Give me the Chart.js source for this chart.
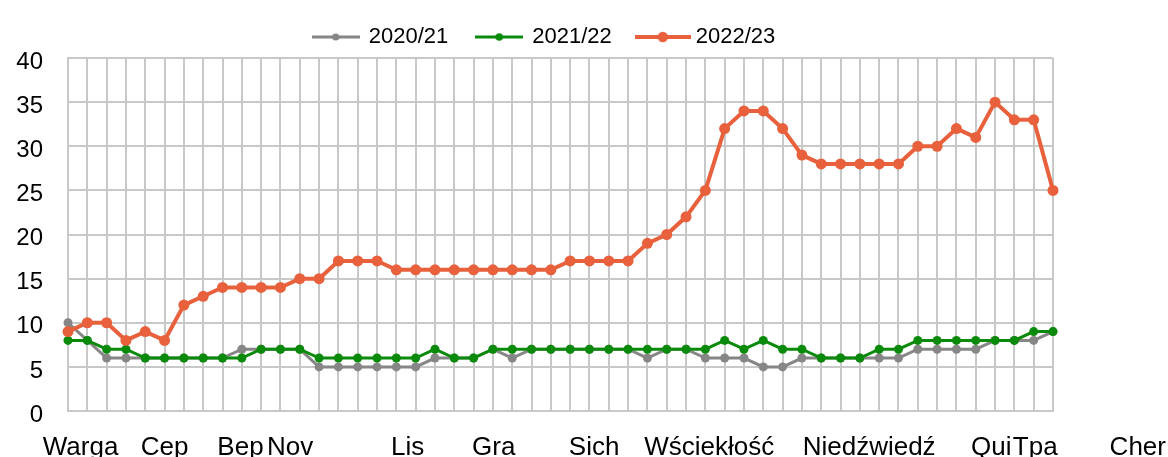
<!DOCTYPE html>
<html><head><meta charset="utf-8">
<script src="https://cdn.jsdelivr.net/npm/chart.js@4"></script>
<style>html,body{margin:0;padding:0;background:#fff;} canvas{display:block;}</style>
</head><body>
<canvas id="c" width="1168" height="457"></canvas>
<script>
const weeks = [1,2,3,4,5,6,7,8,9,10,11,12,13,14,15,16,17,18,19,20,21,22,23,24,25,26,
  27,28,29,30,31,32,33,34,35,36,37,38,39,40,41,42,43,44,45,46,47,48,49,50,51,52];
const series2020 = [10,8,6,6,6,6,6,6,6,7,7,7,7,5,5,5,5,5,5,6,6,6,7,6,7,7,
  7,7,7,7,6,7,7,6,6,6,5,5,6,6,6,6,6,6,7,7,7,7,8,8,8,9];
const series2021 = [8,8,7,7,6,6,6,6,6,6,7,7,7,6,6,6,6,6,6,7,6,6,7,7,7,7,
  7,7,7,7,7,7,7,7,8,7,8,7,7,6,6,6,7,7,8,8,8,8,8,8,9,9];
const series2022 = [9,10,10,8,9,8,12,13,14,14,14,14,15,15,17,17,17,16,16,16,16,16,16,16,16,16,
  17,17,17,17,19,20,22,25,32,34,34,32,29,28,28,28,28,28,30,30,32,31,35,33,33,25];
const seriesNames = ['2020/21','2021/22','2022/23'];
const monthLabels = ['Warga','Cep','Bep','Nov','Lis','Gra','Sich','Wściekłość','Niedźwiedź','Qui','Tpa','Cher'];
const monthPositions = [0.65,5.0,8.93,11.5,17.58,22.04,27.24,33.2,41.48,47.8,50.08,55.39];

const colors = ['#868686','#0a8a0a','#e8603c'];
const FONT = "'Liberation Sans', Arial, sans-serif";
Chart.defaults.font.family = FONT;
Chart.defaults.color = '#000';

function legendIcon(color, w, lw, r) {
  const c = document.createElement('canvas');
  c.width = w; c.height = 14;
  const g = c.getContext('2d');
  g.strokeStyle = color; g.lineWidth = lw;
  g.beginPath(); g.moveTo(0, 7); g.lineTo(w, 7); g.stroke();
  g.fillStyle = color;
  g.beginPath(); g.arc(w / 2, 7, r, 0, Math.PI * 2); g.fill();
  return c;
}
const icons = [legendIcon(colors[0], 48, 3, 3.6), legendIcon(colors[1], 48, 3, 3.8), legendIcon(colors[2], 56, 4, 5.2)];

const gridColor = '#c8c8c8';

// shifts the legend block slightly to the left-of-centre position of the original
const legendShift = {
  id: 'legendShift',
  afterLayout(chart) {
    if (chart.legend) { chart.legend.left += 28; }
  }
};

new Chart(document.getElementById('c'), {
  type: 'line',
  plugins: [legendShift],
  data: {
    labels: weeks,
    datasets: [
      {label: seriesNames[0], data: series2020, borderColor: colors[0], backgroundColor: colors[0],
       pointBackgroundColor: colors[0], borderWidth: 3, pointRadius: 4.5, pointBorderWidth: 0, order: 3, tension: 0, clip: false},
      {label: seriesNames[1], data: series2021, borderColor: colors[1], backgroundColor: colors[1],
       pointBackgroundColor: colors[1], borderWidth: 3, pointRadius: 4.5, pointBorderWidth: 0, order: 2, tension: 0, clip: false},
      {label: seriesNames[2], data: series2022, borderColor: colors[2], backgroundColor: colors[2],
       pointBackgroundColor: colors[2], borderWidth: 4, pointRadius: 5.5, pointBorderWidth: 0, order: 1, tension: 0, clip: false}
    ]
  },
  options: {
    responsive: false,
    animation: false,
    layout: {padding: {left: 8, right: 115, top: -13, bottom: 0}},
    plugins: {
      tooltip: {enabled: false},
      legend: {
        position: 'top',
        align: 'center',
        labels: {
          usePointStyle: true,
          pointStyleWidth: 44,
          padding: 29,
          font: {size: 22, family: FONT},
          color: '#000',
          generateLabels: (chart) => chart.data.datasets.map((ds, i) => ({
            text: ds.label, fillStyle: colors[i], strokeStyle: colors[i], lineWidth: 0,
            pointStyle: icons[i], hidden: false, datasetIndex: i, fontColor: '#000'
          }))
        }
      }
    },
    scales: {
      x: {
        type: 'category',
        offset: false,
        ticks: {display: false},
        grid: {color: gridColor, lineWidth: 2, drawTicks: false},
        border: {color: gridColor, width: 2},
        afterFit: (s) => { s.height = 0; s.paddingLeft = 0; s.paddingRight = 0; }
      },
      x2: {
        type: 'linear',
        position: 'bottom',
        min: 0, max: 51,
        grid: {display: false, drawTicks: false},
        border: {display: false},
        ticks: {
          autoSkip: false, maxRotation: 0, minRotation: 0, padding: 21,
          font: {size: 26, family: FONT}, color: '#000',
          callback: (v, i) => monthLabels[i]
        },
        afterBuildTicks: (s) => { s.ticks = monthPositions.map(v => ({value: v})); },
        afterFit: (s) => { s.height = 46; s.paddingLeft = 0; s.paddingRight = 0; }
      },
      y: {
        min: 0, max: 40,
        ticks: {stepSize: 5, padding: 25, labelOffset: 4, font: {size: 24, family: FONT}, color: '#000'},
        grid: {color: gridColor, lineWidth: 2, drawTicks: false},
        border: {color: gridColor, width: 2},
        afterFit: (s) => { s.width = 60; s.paddingTop = 58; }
      }
    }
  }
});
</script>
</body></html>
